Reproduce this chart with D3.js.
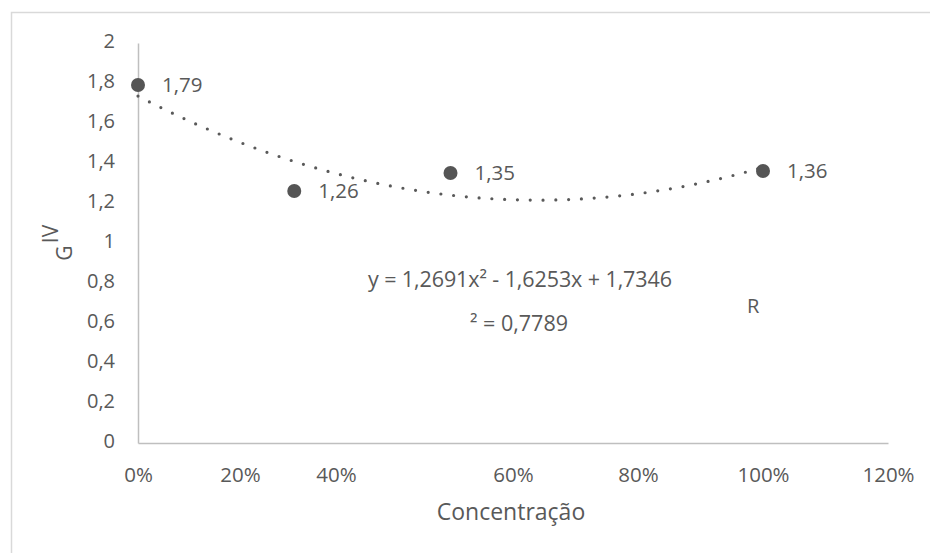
<!DOCTYPE html>
<html>
<head>
    <meta charset="utf-8">
    <title>IVG x Concentração</title>
    <script src="https://cdn.jsdelivr.net/npm/d3@7"></script>
</head>

<style>
    body{
        margin:0;
        background-color: #ffffff;
        font-family: 'Open Sans', sans-serif;
    }
    svg text { fill: #595959; }
</style>

<body>
    <div id="chart"></div>
</body>

<script>

    // data
    var concentracao = [0, 0.25, 0.5, 1.0];
    var ivg = [1.79, 1.26, 1.35, 1.36];
    var xTicks = [0, 0.2, 0.4, 0.6, 0.8, 1.0, 1.2];
    var yTicks = [0, 0.2, 0.4, 0.6, 0.8, 1, 1.2, 1.4, 1.6, 1.8, 2];
    // polynomial trendline coefficients shown on the chart (a, b, c)
    var trendCoef = [1.2691, -1.6253, 1.7346];
    var r2 = 0.7789;

    var width = 930, height = 553;
    var plot = {left: 138, right: 888, top: 43, bottom: 443};
    // the label positions of 20% and 40% are off in the original picture
    var xLabelShift = [0, -23, -52, 0, 0, 0, 0];

    var br = d3.formatLocale({decimal: ",", thousands: ".", grouping: [3], currency: ["", ""]});
    var fmtY = function(d) { return br.format("~g")(+d.toFixed(1)); };
    var fmtVal = br.format(".2f");

    var xScale = d3.scaleLinear().domain([0, 1.2]).range([plot.left, plot.right]);
    var yScale = d3.scaleLinear().domain([0, 2]).range([plot.bottom, plot.top]);

    var svg = d3.select("#chart").append("svg")
        .attr("width", width)
        .attr("height", height);

    // outer border of the chart area (runs off the right and bottom edge)
    svg.append("rect")
        .attr("x", 11.5).attr("y", 12.5)
        .attr("width", 940).attr("height", 560)
        .attr("fill", "none")
        .attr("stroke", "#d9d9d9")
        .attr("stroke-width", 1.5);

    // y axis
    var yAxis = svg.append("g")
        .attr("transform", "translate(" + plot.left + ",0)")
        .call(d3.axisLeft(yScale).tickValues(yTicks).tickSize(0).tickPadding(23).tickFormat(fmtY));
    yAxis.select(".domain").attr("stroke", "#bfbfbf").attr("stroke-width", 1.5);
    yAxis.selectAll("text")
        .attr("dy", "0.22em")
        .style("font-family", "'Open Sans', sans-serif")
        .style("font-size", "20px")
        .attr("fill", "#595959");

    // x axis
    var xAxis = svg.append("g")
        .attr("transform", "translate(0," + plot.bottom + ")")
        .call(d3.axisBottom(xScale).tickValues(xTicks).tickSize(0).tickPadding(24).tickFormat(d3.format(".0%")));
    xAxis.select(".domain").attr("stroke", "#bfbfbf").attr("stroke-width", 1.5);
    xAxis.selectAll("text")
        .attr("x", function(d, i) { return xLabelShift[i]; })
        .style("font-family", "'Open Sans', sans-serif")
        .style("font-size", "20.5px")
        .attr("fill", "#595959");

    // axis titles
    svg.append("text")
        .attr("x", (plot.left + plot.right) / 2 - 2)
        .attr("y", 520)
        .attr("text-anchor", "middle")
        .style("font-size", "23px")
        .text("Concentração");

    svg.append("text")
        .attr("transform", "translate(58,234) rotate(-90)")
        .attr("text-anchor", "middle")
        .style("font-size", "21px")
        .text("IV");
    svg.append("text")
        .attr("transform", "translate(72,253) rotate(-90)")
        .attr("text-anchor", "middle")
        .style("font-size", "21px")
        .text("G");

    // polynomial trendline, dotted
    var trendX = d3.range(0, 1.0001, 0.01);
    var poly = function(x) { return trendCoef[0] * x * x + trendCoef[1] * x + trendCoef[2]; };
    var line = d3.line()
        .x(function(d) { return xScale(d); })
        .y(function(d) { return yScale(poly(d)); });
    svg.append("path")
        .datum(trendX)
        .attr("d", line)
        .attr("fill", "none")
        .attr("stroke", "#595959")
        .attr("stroke-width", 3.2)
        .attr("stroke-linecap", "round")
        .attr("stroke-dasharray", "0,12.8");

    // points
    var pts = concentracao.map(function(c, i) { return {x: c, y: ivg[i]}; });
    svg.selectAll(".dot")
        .data(pts)
        .enter().append("circle")
        .attr("class", "dot")
        .attr("r", 7)
        .attr("cx", function(d) { return xScale(d.x); })
        .attr("cy", function(d) { return yScale(d.y); })
        .style("fill", "#555555");

    // data labels
    svg.selectAll(".lbl")
        .data(pts)
        .enter().append("text")
        .attr("class", "lbl")
        .attr("x", function(d) { return xScale(d.x) + 24; })
        .attr("y", function(d) { return yScale(d.y); })
        .attr("dy", "0.36em")
        .style("font-size", "20.5px")
        .text(function(d) { return fmtVal(d.y); });

    // trendline equation, split the way the original shows it
    var eq = "y = " + br.format(".4f")(trendCoef[0]) + "x² - " + br.format(".4f")(-trendCoef[1])
        + "x + " + br.format(".4f")(trendCoef[2]);
    svg.append("text")
        .attr("x", 368).attr("y", 287)
        .attr("textLength", 304)
        .style("font-size", "21.5px")
        .text(eq);
    svg.append("text")
        .attr("x", 470).attr("y", 331)
        .style("font-size", "21.5px")
        .text("² = " + br.format(".4f")(r2));
    svg.append("text")
        .attr("x", 747).attr("y", 313)
        .style("font-size", "20px")
        .text("R");

</script>

</html>
